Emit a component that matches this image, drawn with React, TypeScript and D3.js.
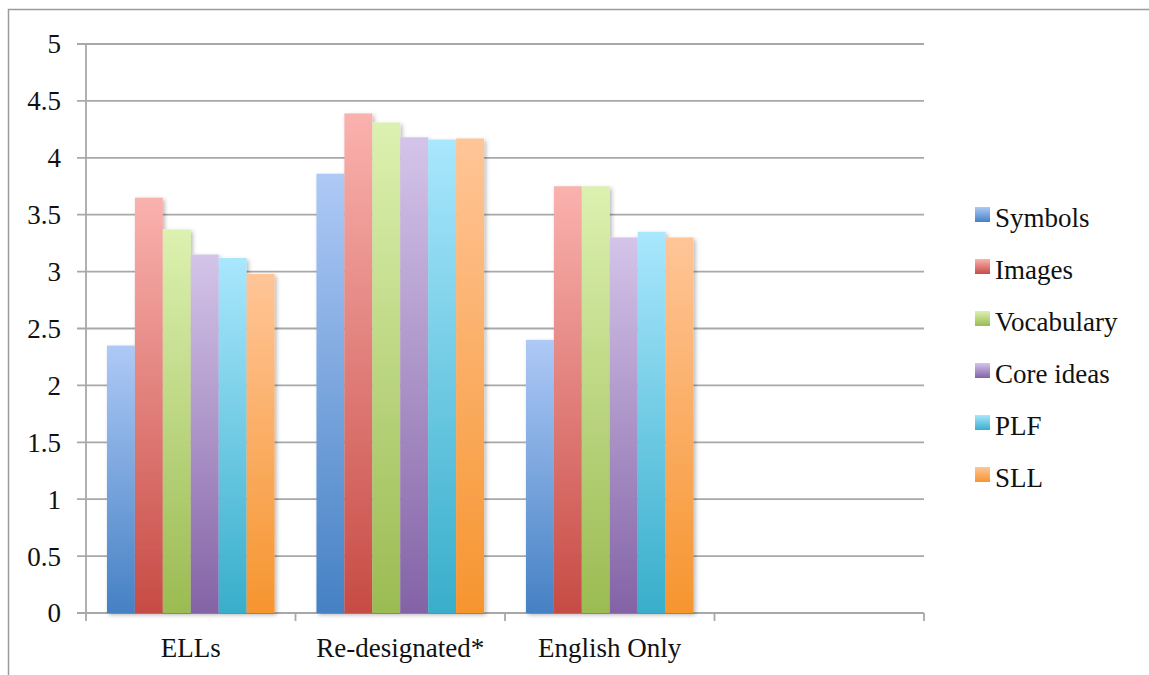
import React from "react";
import * as d3 from "d3";

const categories = ["ELLs", "Re-designated*", "English Only", ""];
const seriesNames = ["Symbols", "Images", "Vocabulary", "Core ideas", "PLF", "SLL"];
const symbols = [2.35, 3.86, 2.4];
const images = [3.65, 4.39, 3.75];
const vocabulary = [3.37, 4.31, 3.75];
const coreIdeas = [3.15, 4.18, 3.3];
const plf = [3.12, 4.16, 3.35];
const sll = [2.98, 4.17, 3.3];
const yTicks = [0, 0.5, 1, 1.5, 2, 2.5, 3, 3.5, 4, 4.5, 5];

const seriesValues = [symbols, images, vocabulary, coreIdeas, plf, sll];
const topColors = ["#aec9f6", "#fab2ae", "#dcf1b0", "#d4c4e9", "#a9e7fd", "#ffc597"];
const bottomColors = ["#4581c4", "#c74b45", "#9bbb52", "#8363a6", "#38aecb", "#f6952f"];

const W = 1149;
const H = 675;
const left = 86;
const right = 924;
const top = 44;
const bottom = 613;
const FONT = "Liberation Serif, DejaVu Serif, serif";

export default function App() {
  const x = d3.scaleBand<string>().domain(categories.map((c, i) => String(i))).range([left, right]).padding(0);
  const inner = d3
    .scaleBand<string>()
    .domain(seriesNames)
    .range([0, x.bandwidth()])
    .paddingInner(0)
    .paddingOuter(0.75);
  const y = d3.scaleLinear().domain([0, 5]).range([bottom, top]);

  return (
    <svg
      width={W}
      height={H}
      style={{ position: "absolute", left: 0, top: 0, background: "#fff", fontFamily: FONT }}
    >
      <defs>
        {seriesNames.map((s, i) => (
          <linearGradient key={s} id={`g${i}`} x1="0" y1="0" x2="0" y2="1">
            <stop offset="0" stopColor={topColors[i]} />
            <stop offset="1" stopColor={bottomColors[i]} />
          </linearGradient>
        ))}
        <filter id="shadow" x="-20%" y="-5%" width="150%" height="115%">
          <feDropShadow dx="2" dy="2" stdDeviation="2" floodColor="#000" floodOpacity="0.28" />
        </filter>
      </defs>
      {/* outer frame */}
      <path d={`M8.5,${H + 5} L8.5,9.5 L${W + 5},9.5`} fill="none" stroke="#9a9a9a" strokeWidth={1.5} />

      {/* gridlines */}
      {yTicks.map((t) => (
        <line key={t} x1={77} x2={right} y1={y(t)} y2={y(t)} stroke="#a8a8a8" strokeWidth={1.8} />
      ))}
      {/* y axis */}
      <line x1={left} x2={left} y1={top} y2={bottom + 8} stroke="#a8a8a8" strokeWidth={1.8} />
      {/* x ticks */}
      {categories.map((c, i) => (
        <line
          key={"t" + i}
          x1={(x(String(i)) as number) + x.bandwidth()}
          x2={(x(String(i)) as number) + x.bandwidth()}
          y1={bottom}
          y2={bottom + 8}
          stroke="#a8a8a8"
          strokeWidth={1.8}
        />
      ))}

      {/* bars */}
      <g filter="url(#shadow)">
        {categories.map((c, ci) =>
          seriesNames.map((s, si) => {
            const v = seriesValues[si][ci];
            if (v === undefined) return null;
            const bx = (x(String(ci)) as number) + (inner(s) as number);
            return (
              <rect
                key={c + s}
                x={bx}
                y={y(v)}
                width={inner.bandwidth()}
                height={y(0) - y(v)}
                fill={`url(#g${si})`}
              />
            );
          })
        )}
      </g>

      {/* y labels */}
      {yTicks.map((t) => (
        <text key={"l" + t} x={61} y={y(t)} dy="0.35em" textAnchor="end" fontFamily={FONT} fontSize={27} fill="#111">
          {String(t)}
        </text>
      ))}
      {/* x labels */}
      {categories.map((c, i) => (
        <text
          key={"x" + i}
          x={(x(String(i)) as number) + x.bandwidth() / 2}
          y={657}
          textAnchor="middle"
          fontFamily={FONT}
          fontSize={27}
          fill="#111"
        >
          {c}
        </text>
      ))}

      {/* legend */}
      {seriesNames.map((s, i) => (
        <g key={"lg" + s} transform={`translate(975, ${207 + i * 52})`}>
          <rect width={15} height={15} fill={`url(#g${i})`} />
          <text x={20} y={20} fontFamily={FONT} fontSize={27} fill="#111">
            {s}
          </text>
        </g>
      ))}
    </svg>
  );
}
